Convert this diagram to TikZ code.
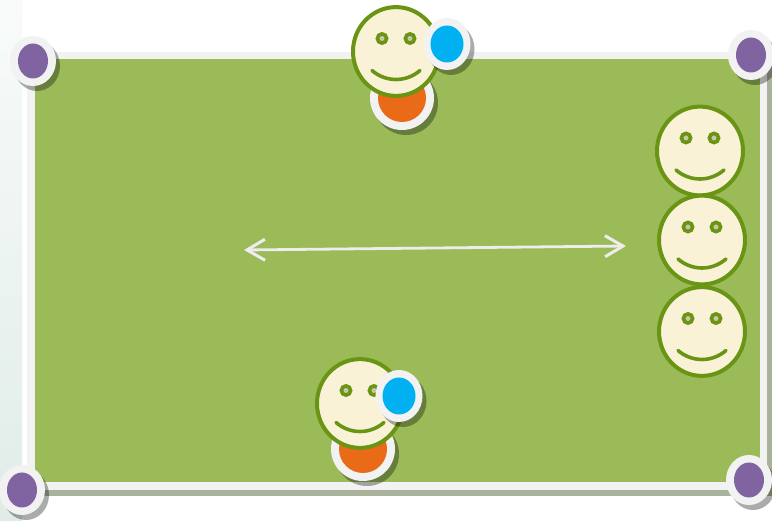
\documentclass[tikz,border=0pt]{standalone}
\usetikzlibrary{arrows.meta}
\definecolor{framec}{HTML}{F2F2F2}
\definecolor{fieldc}{HTML}{9BBB59}
\definecolor{framesh}{HTML}{A9B29B}
\definecolor{purplec}{HTML}{8064A2}
\definecolor{orangec}{HTML}{E96A17}
\definecolor{bluec}{HTML}{00B0F0}
\definecolor{creamc}{HTML}{FAF2D6}
\definecolor{linec}{HTML}{6A9414}
\definecolor{eyec}{HTML}{C8C6A6}
\definecolor{arrowc}{HTML}{EDEDED}
\definecolor{fadetop}{HTML}{F8FBFA}
\definecolor{fadebot}{HTML}{E0ECE8}
\tikzset{
  shadowdisc/.style={fill=black,fill opacity=.33,draw=none},
  ringdisc/.style={fill=framec,draw=none},
  facedisc/.style={fill=creamc,draw=linec,line width=4pt},
  eyedisc/.style={fill=eyec,draw=linec,line width=3.6pt},
  mouthline/.style={draw=linec,line width=3.6pt,line cap=round},
  dbl/.style={draw=arrowc,line width=2.8pt,{Straight Barb[length=18pt,width=21pt,line width=3pt]}-{Straight Barb[length=18pt,width=21pt,line width=3pt]}},
  pics/smiley/.style={code={
    \draw[facedisc] (0,0) ellipse [x radius=43pt,y radius=44.4pt];
    \draw[eyedisc] (-14,-13) circle [radius=4.6pt];
    \draw[eyedisc] (14,-13) circle [radius=4.6pt];
    \draw[mouthline] (-24,19) .. controls (-10,31) and (10,31) .. (24,19);
  }},
  pics/dot/.style args={#1/#2/#3/#4/#5}{code={
    \fill[shadowdisc] (4,5) ellipse [x radius=#1pt,y radius=#2pt];
    \fill[ringdisc] (0,0) ellipse [x radius=#1pt,y radius=#2pt];
    \fill[#5] (0,0) ellipse [x radius=#3pt,y radius=#4pt];
  }},
}
\begin{document}
\begin{tikzpicture}[x=1pt,y=-1pt]
\useasboundingbox (0,0) rectangle (772,521);
\fill[white] (0,0) rectangle (772,521);
% left fade
\shade[top color=fadetop,bottom color=fadebot] (0,0) rectangle (22,521);
% frame
\fill[framesh] (32,57) rectangle (772,496);
\fill[framec] (27,52) rectangle (767,490.5);
\fill[fieldc] (35,59) rectangle (760,482.5);
% corners
\pic at (33,61) {dot=23/25/15/17.5/purplec};
\pic at (751,55) {dot=23/25/15/17.5/purplec};
\pic at (22,490) {dot=23/25/15/17.5/purplec};
\pic at (749,480) {dot=23/25/15/17.5/purplec};
% arrow
\coordinate (arrowL) at (244,250);
\coordinate (arrowR) at (626,246);
\draw[dbl] (arrowL) -- (arrowR);
% top player
\pic at (402,98) {dot=32/32/24/24/orangec};
\pic at (396,51.5) {smiley};
\pic at (447,44) {dot=23.5/26/16.5/18.5/bluec};
% bottom player
\pic at (363,449) {dot=32/32/24/24/orangec};
\pic at (360,403.5) {smiley};
\pic at (399,396) {dot=23.5/26/16.5/18.5/bluec};
% right players
\pic at (700,151) {smiley};
\pic at (702,240) {smiley};
\pic at (702,331.5) {smiley};
\end{tikzpicture}
\end{document}
